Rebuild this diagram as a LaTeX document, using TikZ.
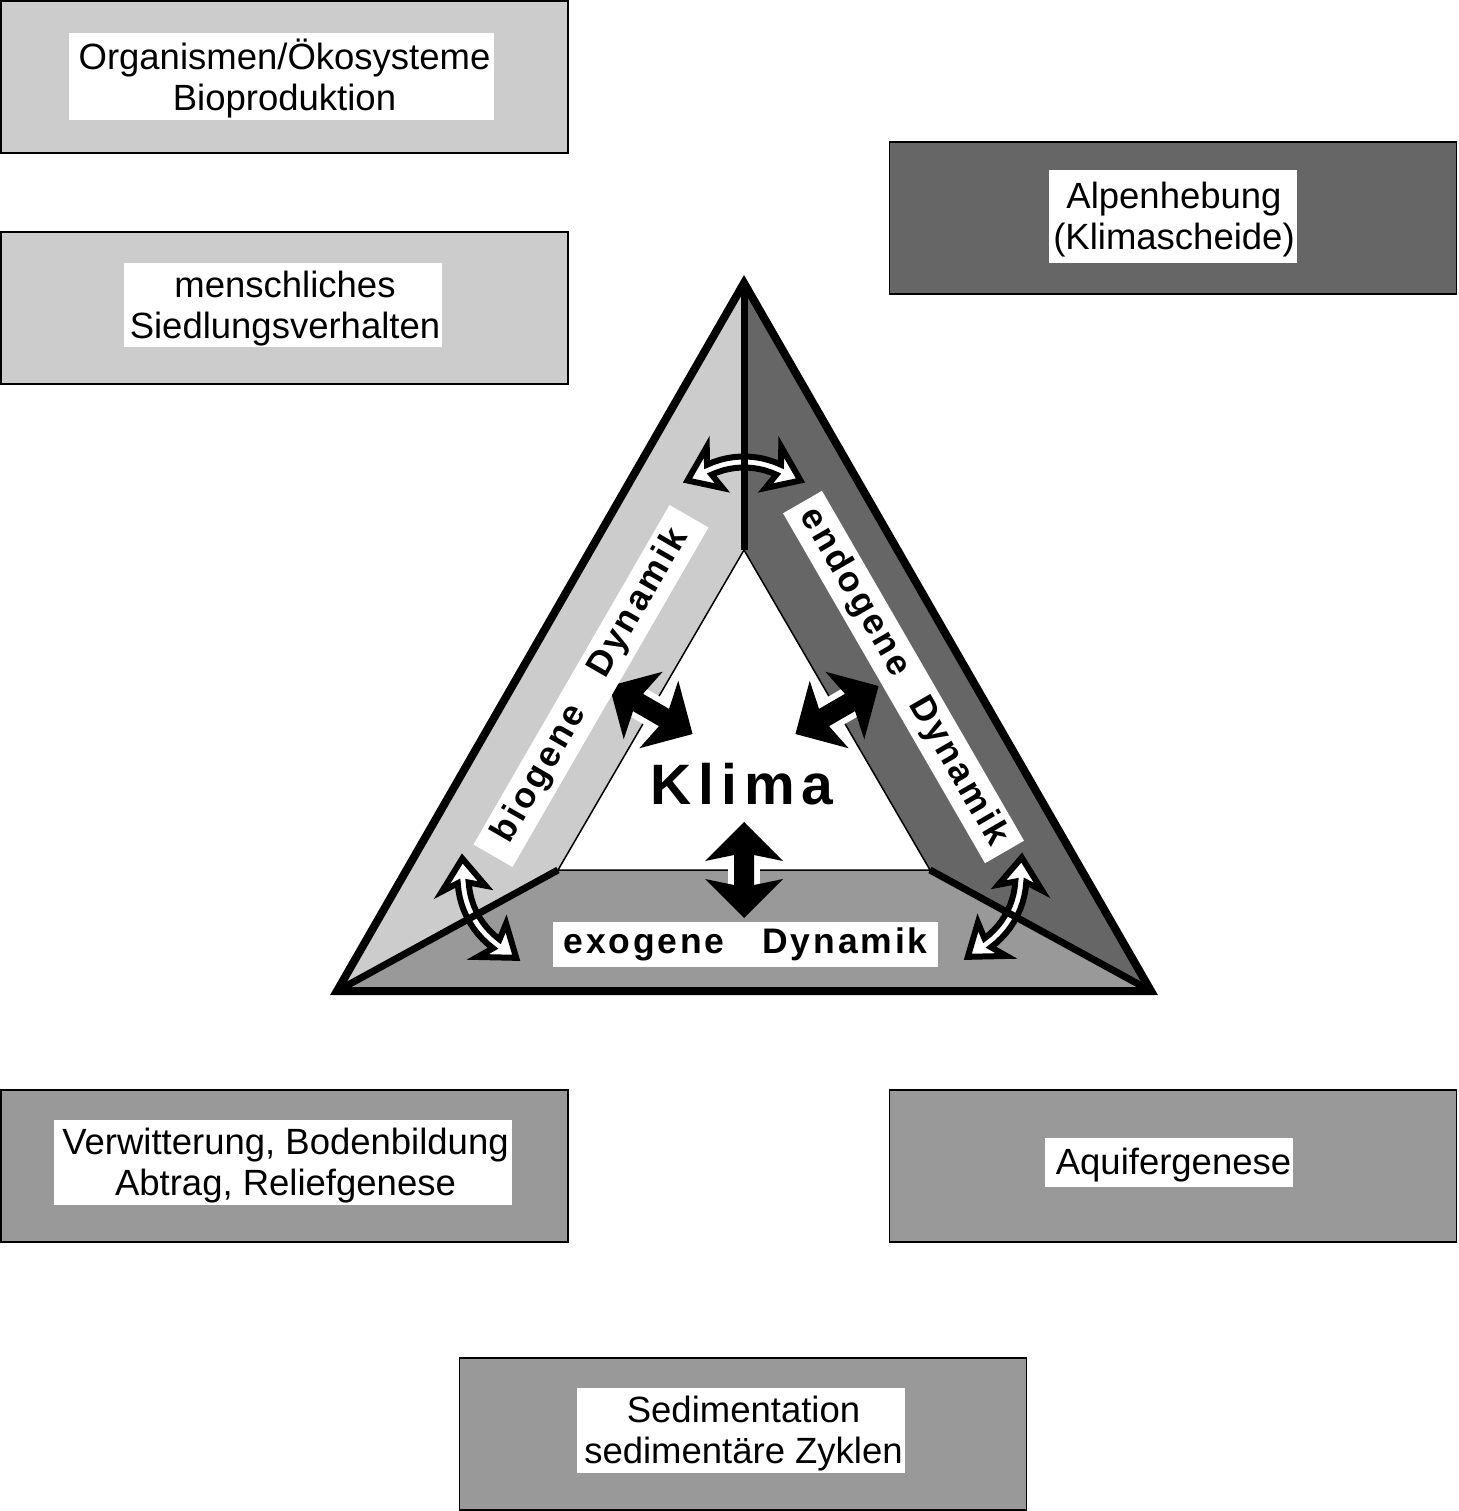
\documentclass[tikz,border=0pt]{standalone}
\usepackage{fontspec}
\setmainfont{Liberation Sans}
\newfontfamily\spacedfont[LetterSpace=8]{Liberation Sans}
\newfontfamily\klimafont[LetterSpace=12]{Liberation Sans}
\definecolor{lightg}{HTML}{CCCCCC}
\definecolor{midg}{HTML}{999999}
\definecolor{darkg}{HTML}{666666}
\begin{document}
\begin{tikzpicture}[x=1pt,y=-1pt,
  outerbox/.style={draw=black, line width=1.5pt, minimum width=567pt, minimum height=152pt, inner sep=0pt},
  whitebox/.style={fill=white, inner sep=0pt},
  boxtext/.style={inner sep=0pt, align=center, font=\fontsize{36.5}{41}\selectfont},
  dynlabel/.style={fill=white, inner sep=0pt, minimum height=45pt, font=\spacedfont\bfseries\fontsize{35.5}{38}\selectfont},
  hollow/.style={fill=white, draw=black, line width=6pt, line join=miter},
  solidarrow/.style={fill=black},
  halo/.style={fill=white}
]
\fill[white] (0,0) rectangle (1458,1511);
\useasboundingbox (0,0) rectangle (1458,1511);

% ---------- boxes ----------
\node[outerbox, fill=lightg] (b1) at (284.5,77) {};
\node[whitebox, minimum width=425pt, minimum height=87pt] (w1) at (281.5,76.5) {};
\node[boxtext] (t1) at (284.5,78.5) {Organismen/Ökosysteme\\Bioproduktion};

\node[outerbox, fill=lightg] (b2) at (284.5,308) {};
\node[whitebox, minimum width=318pt, minimum height=84pt] (w2) at (283,305) {};
\node[boxtext] (t2) at (285,308.5) {menschliches\\Siedlungsverhalten};

\node[outerbox, fill=darkg] (b3) at (1173,218) {};
\node[whitebox, minimum width=248pt, minimum height=93pt] (w3) at (1173,216.5) {};
\node[boxtext] (t3) at (1174,219.5) {Alpenhebung\\(Klimascheide)};

\node[outerbox, fill=midg] (b4) at (284.5,1166) {};
\node[whitebox, minimum width=458pt, minimum height=85pt] (w4) at (283,1162.5) {};
\node[boxtext] (t4) at (285.5,1165.5) {Verwitterung, Bodenbildung\\Abtrag, Reliefgenese};

\node[outerbox, fill=midg] (b5) at (1173,1166) {};
\node[whitebox, minimum width=248pt, minimum height=49pt] (w5) at (1169,1162.5) {};
\node[boxtext] (t5) at (1173.5,1165.5) {Aquifergenese};

\node[outerbox, fill=midg] (b6) at (743,1434) {};
\node[whitebox, minimum width=328pt, minimum height=85pt] (w6) at (741,1430.5) {};
\node[boxtext] (t6) at (743.5,1434) {Sedimentation\\sedimentäre Zyklen};

% ---------- triangle ----------
\coordinate (OA) at (744,283);
\coordinate (OL) at (337,991);
\coordinate (OR) at (1151,991);
\coordinate (IA) at (744,550);
\coordinate (IL) at (558,870);
\coordinate (IR) at (930,870);

\fill[lightg] (OA) -- (IA) -- (IL) -- (OL) -- cycle;
\fill[darkg] (OA) -- (OR) -- (IR) -- (IA) -- cycle;
\fill[midg] (OL) -- (IL) -- (IR) -- (OR) -- cycle;
\draw[fill=white, line width=1.5pt] (IA) -- (IL) -- (IR) -- cycle;

% ---------- hollow curved double arrows ----------
\foreach \px/\py/\ang in {744/462/0, 473/917/118.5, 1011/916/-118.5}{
  \begin{scope}[shift={(\px,\py)}, rotate=\ang, shift={(0,82)}]
    \filldraw[hollow] (-115:87.5) -- plot[domain=-115:-65, samples=12] (\x:87.5)
      -- (-69:104) -- (56.5,-63.5) -- (-69:60) -- (-65:76.5)
      -- plot[domain=-65:-115, samples=12] (\x:76.5)
      -- (-111:60) -- (-56.5,-63.5) -- (-111:104) -- cycle;
  \end{scope}
}

% ---------- black double arrows ----------
\foreach \px/\py/\ang in {744/870/90, 651/710/-30, 837/710/30}{
  \begin{scope}[shift={(\px,\py)}, rotate=\ang]
    \fill[halo] (-15,-16) rectangle (15,16);
    \fill[solidarrow] (48,0) -- (9,-39) -- (15,-10) -- (-15,-10) -- (-9,-39) -- (-48,0)
      -- (-9,39) -- (-15,10) -- (15,10) -- (9,39) -- cycle;
  \end{scope}
}

% ---------- dividers and outline ----------
\draw[line width=7pt] (OA) -- (IA);
\draw[line width=7pt] (OL) -- (IL);
\draw[line width=7pt] (OR) -- (IR);
\draw[line width=8pt, line join=miter] (OA) -- (OL) -- (OR) -- cycle;

% ---------- labels ----------
\node[dynlabel, minimum width=385pt] (exo) at (745.5,944.5) {exogene\hspace{38pt}Dynamik};
\node[dynlabel, rotate=60, minimum width=392pt] (bio) at (591,686) {biogene\hspace{38pt}Dynamik};
\node[dynlabel, rotate=-60, minimum width=404pt] (endo) at (903.5,677) {endogene\hspace{30pt}Dynamik};
\node[font=\klimafont\bfseries\fontsize{57}{60}\selectfont, anchor=base] (klima) at (742,804) {Klima};
\end{tikzpicture}
\end{document}
